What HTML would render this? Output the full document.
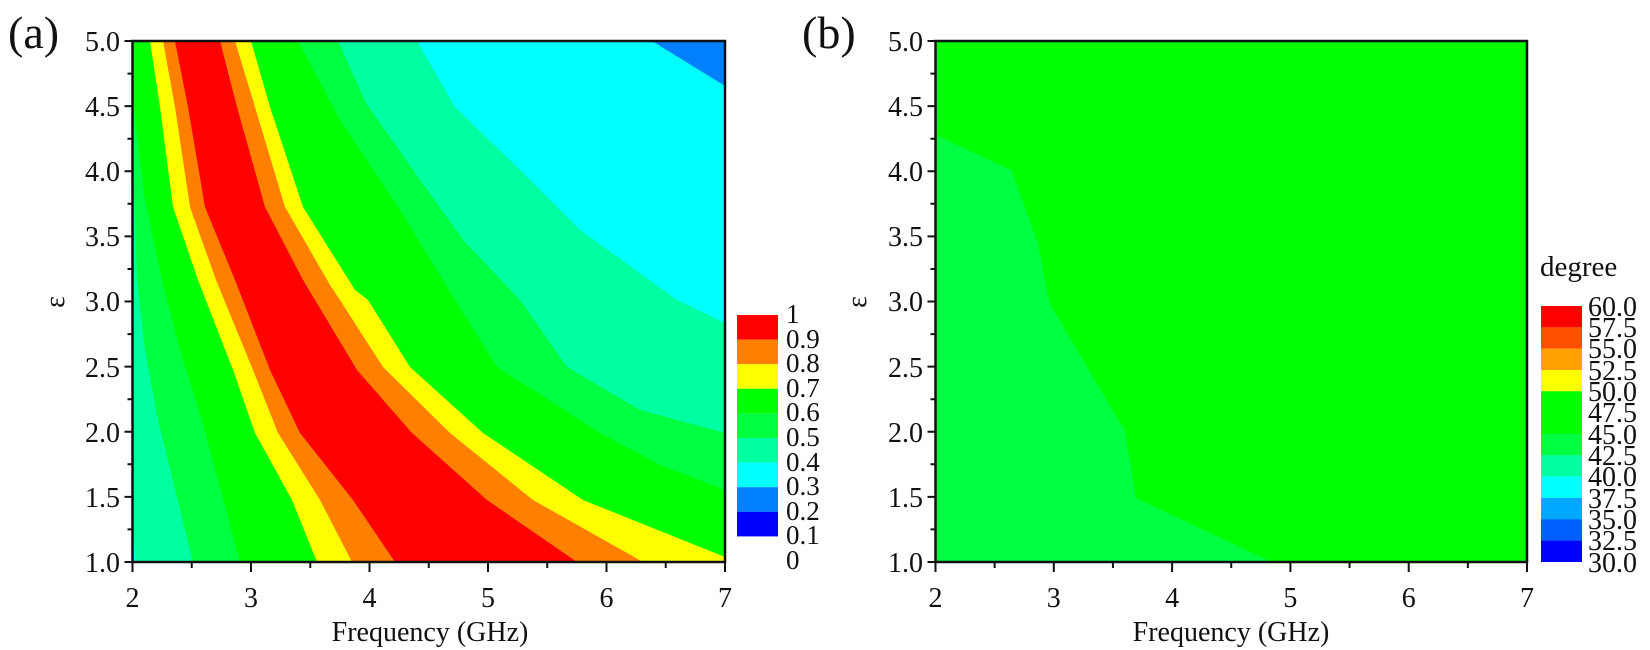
<!DOCTYPE html>
<html><head><meta charset="utf-8"><style>body{margin:0;background:#fff}svg{display:block}text{font-family:"Liberation Serif",serif;fill:#111}</style></head><body>
<svg width="1650" height="650" viewBox="0 0 1650 650" xmlns="http://www.w3.org/2000/svg">
<defs><clipPath id="ca"><rect x="132.5" y="41" width="592.5" height="521"/></clipPath></defs>
<g clip-path="url(#ca)">
<rect x="132.5" y="41" width="592.5" height="521" fill="#0080ff"/>
<polygon fill="#00ffff" points="652,41 725,86 725,562 132.5,562 132.5,41"/>
<polygon fill="#00ffa0" points="417,41 455,107 520,170 580,230 677,300 725,323 725,562 132.5,562 132.5,41"/>
<polygon fill="#00ff40" points="338,41 366,103 420,180 464,241 520,300 567,367 640,410 725,433 725,562 132.5,562 132.5,41"/>
<polygon fill="#00ff00" points="298,41 340,120 400,210 455,300 497,367 600,433 660,465 725,490 725,562 132.5,562 132.5,41"/>
<polygon fill="#ffff00" points="251,41 270,107 303,207 355,290 368,300 410,367 483,433 583,500 725,557 725,562 132.5,562 132.5,41"/>
<polygon fill="#ff8000" points="235,41 255,107 285,207 330,285 340,300 383,367 450,433 533,500 643,562 132.5,562 132.5,41"/>
<polygon fill="#ff0000" points="220,41 237,107 265,207 303,280 315,300 357,370 412,433 487,500 577,562 132.5,562 132.5,41"/>
<polygon fill="#ff8000" points="175,41 188,107 205,207 235,280 270,370 300,433 353,500 395,562 132.5,562 132.5,41"/>
<polygon fill="#ffff00" points="163,41 175,107 190,207 216,280 253,370 278,433 320,500 352,562 132.5,562 132.5,41"/>
<polygon fill="#00ff00" points="150,41 160,107 173,207 198,280 233,370 255,433 292,500 317,562 132.5,562 132.5,41"/>
<polygon fill="#00ff40" points="132.5,100 145,200 162,280 180,350 202,420 240,562 132.5,562"/>
<polygon fill="#00ffa0" points="132.5,150 137,280 145,350 158,420 193,562 132.5,562"/>
<polygon fill="#00ffff" points="132.5,530 136,562 132.5,562"/>
</g>
<rect x="132.5" y="41" width="592.5" height="521" fill="none" stroke="#111" stroke-width="2.5"/>
<g stroke="#111" stroke-width="2">
<path d="M132.5 562v10M251 562v10M369.5 562v10M488 562v10M606.5 562v10M725 562v10M191.75 562v6M310.25 562v6M428.75 562v6M547.25 562v6M665.75 562v6"/>
<path d="M132.5 562h-8M132.5 496.9h-8M132.5 431.8h-8M132.5 366.6h-8M132.5 301.5h-8M132.5 236.4h-8M132.5 171.3h-8M132.5 106.1h-8M132.5 41h-8M132.5 529.4h-5M132.5 464.3h-5M132.5 399.2h-5M132.5 334.1h-5M132.5 269h-5M132.5 203.8h-5M132.5 138.7h-5M132.5 73.6h-5"/>
</g>
<g font-size="28" text-anchor="end">
<text x="120" y="572">1.0</text><text x="120" y="507">1.5</text><text x="120" y="442">2.0</text><text x="120" y="377">2.5</text><text x="120" y="311">3.0</text><text x="120" y="246">3.5</text><text x="120" y="181">4.0</text><text x="120" y="116">4.5</text><text x="120" y="51">5.0</text>
</g>
<g font-size="28" text-anchor="middle">
<text x="132.5" y="607">2</text><text x="251" y="607">3</text><text x="369.5" y="607">4</text><text x="488" y="607">5</text><text x="606.5" y="607">6</text><text x="725" y="607">7</text>
<text x="430" y="641">Frequency (GHz)</text>
</g>
<text x="64" y="302" font-size="28" text-anchor="middle" transform="rotate(-90 64 302)">ε</text>
<text x="8" y="48" font-size="46">(a)</text>
<g>
<rect x="737" y="315" width="41" height="24.6" fill="#ff0000"/><rect x="737" y="339.6" width="41" height="24.6" fill="#ff8000"/><rect x="737" y="364.2" width="41" height="24.6" fill="#ffff00"/><rect x="737" y="388.8" width="41" height="24.6" fill="#00ff00"/><rect x="737" y="413.4" width="41" height="24.6" fill="#00ff40"/><rect x="737" y="438" width="41" height="24.6" fill="#00ffa0"/><rect x="737" y="462.6" width="41" height="24.6" fill="#00ffff"/><rect x="737" y="487.2" width="41" height="24.6" fill="#0080ff"/><rect x="737" y="511.8" width="41" height="24.6" fill="#0000ff"/>
</g>
<g font-size="27">
<text x="786" y="323">1</text><text x="786" y="348">0.9</text><text x="786" y="372">0.8</text><text x="786" y="397">0.7</text><text x="786" y="421">0.6</text><text x="786" y="446">0.5</text><text x="786" y="471">0.4</text><text x="786" y="495">0.3</text><text x="786" y="520">0.2</text><text x="786" y="544">0.1</text><text x="786" y="569">0</text>
</g>
<rect x="935.5" y="41" width="591.5" height="521" fill="#00ff00"/>
<polygon fill="#00ff40" points="935.5,134.9 1011.4,170.1 1038.5,244.8 1049.3,302.9 1125.2,431.5 1136,497.9 1271.5,562 935.5,562"/>
<rect x="935.5" y="41" width="591.5" height="521" fill="none" stroke="#111" stroke-width="2.5"/>
<g stroke="#111" stroke-width="2">
<path d="M935.5 562v10M1053.8 562v10M1172.1 562v10M1290.4 562v10M1408.7 562v10M1527 562v10M994.65 562v6M1112.95 562v6M1231.25 562v6M1349.55 562v6M1467.85 562v6"/>
<path d="M935.5 562h-8M935.5 496.9h-8M935.5 431.8h-8M935.5 366.6h-8M935.5 301.5h-8M935.5 236.4h-8M935.5 171.3h-8M935.5 106.1h-8M935.5 41h-8M935.5 529.4h-5M935.5 464.3h-5M935.5 399.2h-5M935.5 334.1h-5M935.5 269h-5M935.5 203.8h-5M935.5 138.7h-5M935.5 73.6h-5"/>
</g>
<g font-size="28" text-anchor="end">
<text x="923" y="572">1.0</text><text x="923" y="507">1.5</text><text x="923" y="442">2.0</text><text x="923" y="377">2.5</text><text x="923" y="311">3.0</text><text x="923" y="246">3.5</text><text x="923" y="181">4.0</text><text x="923" y="116">4.5</text><text x="923" y="51">5.0</text>
</g>
<g font-size="28" text-anchor="middle">
<text x="935.5" y="607">2</text><text x="1053.8" y="607">3</text><text x="1172.1" y="607">4</text><text x="1290.4" y="607">5</text><text x="1408.7" y="607">6</text><text x="1527" y="607">7</text>
<text x="1231" y="641">Frequency (GHz)</text>
</g>
<text x="866" y="302" font-size="28" text-anchor="middle" transform="rotate(-90 866 302)">ε</text>
<text x="802" y="48" font-size="46">(b)</text>
<text x="1540" y="276" font-size="29">degree</text>
<g>
<rect x="1541" y="306" width="41" height="21.4" fill="#ff0000"/><rect x="1541" y="327.3" width="41" height="21.4" fill="#ff5000"/><rect x="1541" y="348.6" width="41" height="21.4" fill="#ffa000"/><rect x="1541" y="370" width="41" height="21.4" fill="#ffff00"/><rect x="1541" y="391.3" width="41" height="42.7" fill="#00ff00"/><rect x="1541" y="434" width="41" height="21.4" fill="#00ff40"/><rect x="1541" y="455.3" width="41" height="21.4" fill="#00ffa0"/><rect x="1541" y="476.6" width="41" height="21.4" fill="#00ffff"/><rect x="1541" y="498" width="41" height="21.4" fill="#00a8ff"/><rect x="1541" y="519.3" width="41" height="21.4" fill="#0060ff"/><rect x="1541" y="540.6" width="41" height="21.4" fill="#0000ff"/>
</g>
<g font-size="28">
<text x="1588" y="316">60.0</text><text x="1588" y="337">57.5</text><text x="1588" y="358">55.0</text><text x="1588" y="380">52.5</text><text x="1588" y="401">50.0</text><text x="1588" y="422">47.5</text><text x="1588" y="444">45.0</text><text x="1588" y="465">42.5</text><text x="1588" y="486">40.0</text><text x="1588" y="508">37.5</text><text x="1588" y="529">35.0</text><text x="1588" y="550">32.5</text><text x="1588" y="572">30.0</text>
</g>
</svg>
</body></html>
